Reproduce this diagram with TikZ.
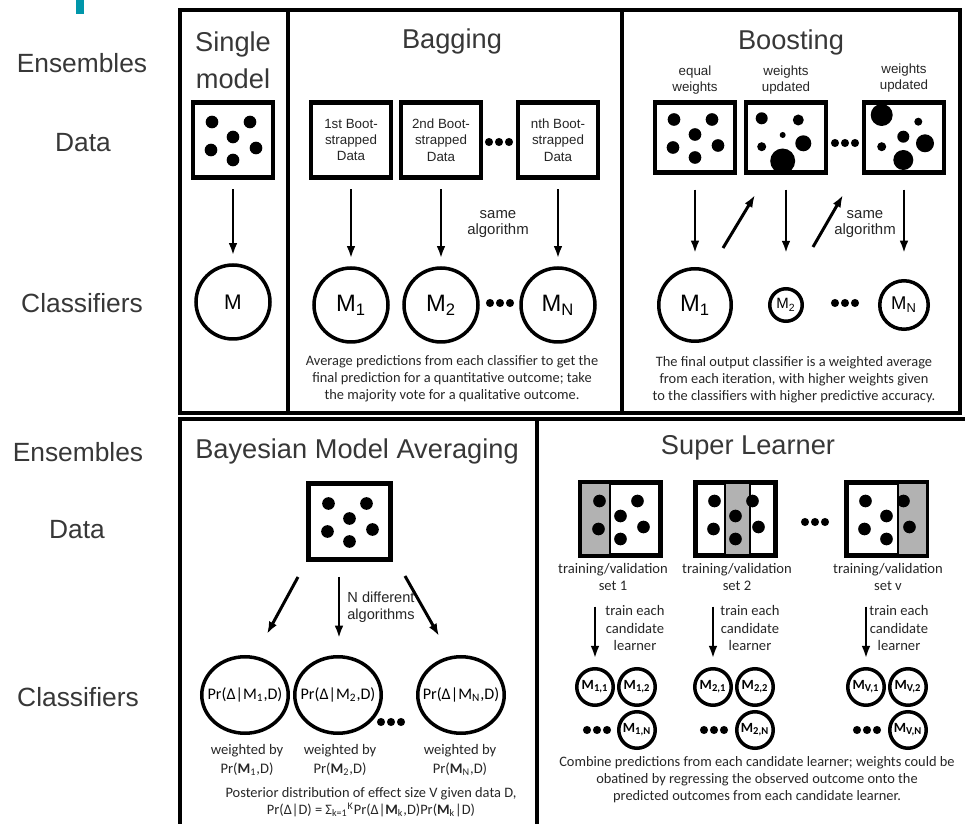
\documentclass[tikz,border=0pt]{standalone}
\usepackage{fontspec}
\setmainfont{Liberation Sans}
\newfontfamily\notefont{Carlito}
\usepackage{tikz}
\usetikzlibrary{arrows.meta, shapes.geometric, calc}

\definecolor{labelgrey}{RGB}{55,55,55}
\definecolor{slidecyan}{RGB}{0,150,170}
\definecolor{stripgrey}{RGB}{178,178,178}

\tikzset{
  frame/.style={line width=2.8pt},
  databox/.style={draw, line width=2.6pt, fill=white, inner sep=0pt, minimum width=1.6cm, minimum height=1.5cm},
  clf/.style={circle, draw, line width=2pt, inner sep=0pt, fill=white},
  bmaclf/.style={ellipse, draw, line width=2pt, inner sep=0pt, fill=white, minimum width=1.73cm, minimum height=1.53cm, font=\notefont\fontsize{9.2}{9.2}\selectfont},
  slclf/.style={circle, draw, line width=2pt, inner sep=0pt, fill=white, minimum size=0.73cm, font=\notefont\bfseries\fontsize{8}{8}\selectfont},
  arr/.style={line width=1.7pt, -{Latex[length=7pt,width=5pt]}},
  rowlab/.style={anchor=base, text=labelgrey, font=\fontsize{15}{18}\selectfont},
  paneltitle/.style={anchor=base, text=labelgrey, font=\fontsize{15.5}{21}\selectfont},
  tiny/.style={align=center, text=black!85, font=\fontsize{7.6}{9.3}\selectfont},
  note/.style={align=center, text=black!85, font=\notefont\fontsize{8.2}{9.6}\selectfont},
}

% three dots "..." between items
\newcommand{\dotrow}[1]{\foreach \k in {-10,0,10} \fill ([xshift=\k*0.02cm]#1) circle[radius=2.3pt];}
% the usual six data points inside a box
\newcommand{\sixdots}[1]{\foreach \dx/\dy in {-21/-18,17/-18,0/-3,-22/10,23/8,0/20} \fill ([shift={(\dx,\dy)}]#1.center) circle[radius=3.6pt];}

\begin{document}
\begin{tikzpicture}[x=0.02cm, y=-0.02cm]
\useasboundingbox (0,0) rectangle (965,824);
\clip (0,0) rectangle (965,824);

\fill[slidecyan] (76,0) rectangle (84,14);

% panel frames
\draw[frame] (180,10) rectangle (960,413);
\draw[line width=2.2pt] (288,10) -- (288,413);
\draw[line width=2.2pt] (622,10) -- (622,413);
\draw[frame] (180,419) rectangle (537,840);
\draw[frame] (537,419) rectangle (980,840);

% row labels
\node[rowlab] (ens1) at (82,73) {Ensembles};
\node[rowlab] (dat1) at (83,152) {Data};
\node[rowlab] (cls1) at (82,313) {Classifiers};
\node[rowlab] (ens2) at (78,462) {Ensembles};
\node[rowlab] (dat2) at (77,539) {Data};
\node[rowlab] (cls2) at (78,706) {Classifiers};

%%% single model
\node[paneltitle, anchor=north, align=center] (tsingle) at (233,26) {Single\\model};
\node[databox] (smdata) at (233,140) {};
\sixdots{smdata}
\node[clf, minimum size=1.48cm, font=\fontsize{12}{12}\selectfont] (smM) at (233,302) {M};
\draw[arr, shorten <=5.5pt, shorten >=4.5pt] (smdata) -- (smM);

%%% bagging
\node[paneltitle] (tbag) at (452,49) {Bagging};
\node[databox, tiny] (bag1) at (351,140) {1st Boot-\\strapped\\Data};
\node[databox, tiny] (bag2) at (441,140) {2nd Boot-\\strapped\\Data};
\node[databox, tiny] (bag3) at (558,140) {nth Boot-\\strapped\\Data};
\coordinate (bagdots) at (499,142);
\dotrow{bagdots}
\node[clf, minimum size=1.48cm, font=\fontsize{13.5}{13.5}\selectfont] (bm1) at (351,305) {M\textsubscript{1}};
\node[clf, minimum size=1.48cm, font=\fontsize{13.5}{13.5}\selectfont] (bm2) at (441,305) {M\textsubscript{2}};
\node[clf, minimum size=1.48cm, font=\fontsize{13.5}{13.5}\selectfont] (bm3) at (558,305) {M\textsubscript{N}};
\coordinate (bmdots) at (500,303);
\dotrow{bmdots}
\foreach \i in {1,2,3}
  \draw[arr, shorten <=5.5pt, shorten >=4.5pt] (bag\i) -- (bm\i);
\node[tiny, font=\fontsize{8.5}{9.3}\selectfont] (bagalg) at (498,224) {same\\algorithm};
\node[note] (bagnote) at (452,379) {Average predictions from each classifier to get the\\final prediction for a quantitative outcome; take\\the majority vote for a qualitative outcome.};

%%% boosting
\node[paneltitle] (tboost) at (791,50) {Boosting};
\node[tiny] (bw1) at (695,80) {equal\\weights};
\node[tiny] (bw2) at (786,80) {weights\\updated};
\node[tiny] (bw3) at (904,78) {weights\\updated};
\node[databox, minimum height=1.4cm] (bb1) at (695,137.5) {};
\node[databox, minimum height=1.4cm] (bb2) at (786,137.5) {};
\node[databox, minimum height=1.4cm] (bb3) at (904,137.5) {};
\sixdots{bb1}
\foreach \x/\y/\r in {761.7/118.3/6, 798.3/120/5.5, 782.7/135/3, 761.7/146.7/4.5, 803.3/143.3/8, 782.7/161/12.5}
  \fill (\x,\y) circle[radius=\r*0.02cm];
\foreach \x/\y/\r in {881.7/115/11, 918.3/121.7/4, 903.3/136.7/6, 881.7/146.7/4.5, 925/143.3/9, 903.3/160/10}
  \fill (\x,\y) circle[radius=\r*0.02cm];
\coordinate (bbdots) at (845,143);
\dotrow{bbdots}
\node[clf, minimum size=1.45cm, font=\fontsize{13.5}{13.5}\selectfont] (bc1) at (695,305) {M\textsubscript{1}};
\node[clf, minimum size=0.65cm, font=\fontsize{8.5}{8.5}\selectfont] (bc2) at (786,305) {M\textsubscript{2}};
\node[clf, minimum size=0.97cm, font=\fontsize{10.5}{10.5}\selectfont] (bc3) at (904,305) {M\textsubscript{N}};
\coordinate (bcdots) at (845,303);
\dotrow{bcdots}
\draw[arr, shorten <=8.5pt, shorten >=8pt] (bb1) -- (bc1);
\draw[arr, shorten <=8.5pt, shorten >=19.3pt] (bb2) -- (bc2);
\draw[arr, shorten <=8.5pt, shorten >=14.8pt] (bb3) -- (bc3);
% reweighting steps
\coordinate (up1a) at (723,248);
\coordinate (up1b) at (755,195);
\coordinate (up2a) at (813,247);
\coordinate (up2b) at (843,195);
\draw[arr] (up1a) -- (up1b);
\draw[arr] (up2a) -- (up2b);
\node[tiny, font=\fontsize{8.5}{9.3}\selectfont] (boostalg) at (865,224) {same\\algorithm};
\node[note] (boostnote) at (794,380) {The final output classifier is a weighted average\\from each iteration, with higher weights given\\to the classifiers with higher predictive accuracy.};

%%% bayesian model averaging
\node[paneltitle] (tbma) at (357,459) {Bayesian Model Averaging};
\node[databox, minimum width=1.64cm, minimum height=1.52cm] (bmadata) at (349.5,521.5) {};
\sixdots{bmadata}
\node[bmaclf] (p1) at (245,695) {\makebox[0pt]{Pr(Δ|M\textsubscript{1},D)}};
\node[bmaclf] (p2) at (338,695) {\makebox[0pt]{Pr(Δ|M\textsubscript{2},D)}};
\node[bmaclf] (p3) at (461,695) {\makebox[0pt]{Pr(Δ|M\textsubscript{N},D)}};
\coordinate (pdots) at (391,722);
\dotrow{pdots}
\coordinate (alg1a) at (298,577);
\coordinate (alg1b) at (267,634);
\coordinate (alg2a) at (339,577);
\coordinate (alg2b) at (339,638);
\coordinate (alg3a) at (405,576);
\coordinate (alg3b) at (439,636);
\foreach \i in {1,2,3}
  \draw[arr] (alg\i a) -- (alg\i b);
\node[tiny, font=\fontsize{8.3}{9.6}\selectfont] (nalg) at (381,607) {N different\\algorithms};
\node[note, font=\notefont\fontsize{8.3}{10.5}\selectfont] (wt1) at (247,760) {weighted by\\Pr(\textbf{M}\textsubscript{1},D)};
\node[note, font=\notefont\fontsize{8.3}{10.5}\selectfont] (wt2) at (340,760) {weighted by\\Pr(\textbf{M}\textsubscript{2},D)};
\node[note, font=\notefont\fontsize{8.3}{10.5}\selectfont] (wt3) at (460,760) {weighted by\\Pr(\textbf{M}\textsubscript{N},D)};
\node[note] (bmanote) at (371,802) {Posterior distribution of effect size V given data D,\\Pr(Δ|D) = Σ\textsubscript{k=1}\textsuperscript{K}Pr(Δ|\textbf{M}\textsubscript{k},D)Pr(\textbf{M}\textsubscript{k}|D)};

%%% super learner
\node[paneltitle] (tsl) at (748,455) {Super Learner};
\node[databox, minimum height=1.46cm] (cv1) at (620.5,519) {};
\node[databox, minimum height=1.46cm] (cv2) at (735.5,519) {};
\node[databox, minimum height=1.46cm] (cv3) at (886.5,519) {};
% validation folds
\filldraw[fill=stripgrey, draw=black, line width=0.6pt] (581,483) rectangle (610,555);
\filldraw[fill=stripgrey, draw=black, line width=0.6pt] (725,483) rectangle (750,555);
\filldraw[fill=stripgrey, draw=black, line width=0.6pt] (898,483) rectangle (927,555);
\sixdots{cv1}
\sixdots{cv2}
\sixdots{cv3}
\coordinate (cvdots) at (815,522);
\dotrow{cvdots}
\node[note, font=\notefont\fontsize{8.3}{9.8}\selectfont] (tv1) at (613,577) {training/validation\\set 1};
\node[note, font=\notefont\fontsize{8.3}{9.8}\selectfont] (tv2) at (737,577) {training/validation\\set 2};
\node[note, font=\notefont\fontsize{8.3}{9.8}\selectfont] (tv3) at (888,577) {training/validation\\set v};
\node[note, font=\notefont\fontsize{8.3}{9.8}\selectfont] (tr1) at (635,628) {train each\\candidate\\learner};
\node[note, font=\notefont\fontsize{8.3}{9.8}\selectfont] (tr2) at (750,628) {train each\\candidate\\learner};
\node[note, font=\notefont\fontsize{8.3}{9.8}\selectfont] (tr3) at (899,628) {train each\\candidate\\learner};
% candidate learners per fold
\node[slclf] (m11) at (595,687) {M\textsubscript{1,1}};
\node[slclf] (m12) at (637,687) {M\textsubscript{1,2}};
\node[slclf] (m1n) at (637,730) {M\textsubscript{1,N}};
\node[slclf] (m21) at (713,687) {M\textsubscript{2,1}};
\node[slclf] (m22) at (755,687) {M\textsubscript{2,2}};
\node[slclf] (m2n) at (755,730) {M\textsubscript{2,N}};
\node[slclf] (m31) at (866,687) {M\textsubscript{V,1}};
\node[slclf] (m32) at (908,687) {M\textsubscript{V,2}};
\node[slclf] (m3n) at (908,730) {M\textsubscript{V,N}};
\coordinate (m1dots) at (597,730);
\coordinate (m2dots) at (714,730);
\coordinate (m3dots) at (867,730);
\dotrow{m1dots}
\dotrow{m2dots}
\dotrow{m3dots}
\foreach \i in {1,2,3}
  \draw[arr, shorten <=5.5pt, shorten >=5pt] (m\i1.north |- tv\i.south) -- (m\i1);
\node[note] (slnote) at (757,780) {Combine predictions from each candidate learner; weights could be\\obatined by regressing the observed outcome onto the\\predicted outcomes from each candidate learner.};
\end{tikzpicture}
\end{document}
